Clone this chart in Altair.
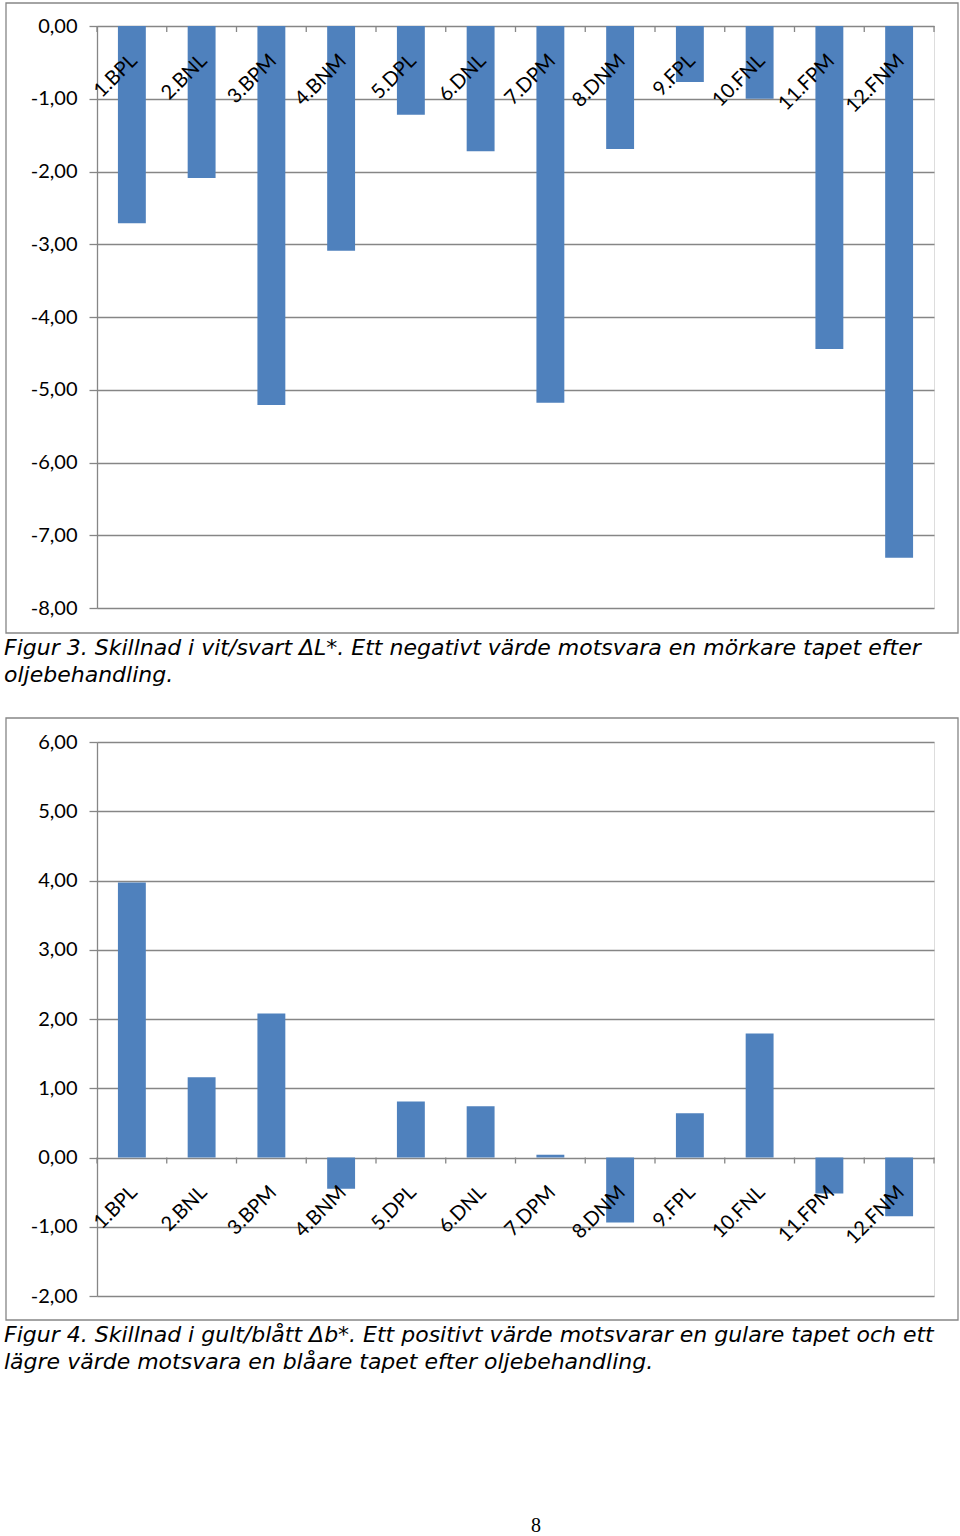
import altair as alt
import pandas as pd

categories = ["1.BPL", "2.BNL", "3.BPM", "4.BNM", "5.DPL", "6.DNL",
              "7.DPM", "8.DNM", "9.FPL", "10.FNL", "11.FPM", "12.FNM"]
delta_L = [-2.71, -2.09, -5.21, -3.09, -1.22, -1.72,
           -5.18, -1.69, -0.77, -1.00, -4.44, -7.31]
delta_b = [3.97, 1.16, 2.08, -0.45, 0.81, 0.74,
           0.04, -0.94, 0.64, 1.79, -0.52, -0.85]

caption3 = ["Figur 3. Skillnad i vit/svart \u0394L*. Ett negativt värde motsvara en mörkare tapet efter",
            "oljebehandling."]
caption4 = ["Figur 4. Skillnad i gult/blått \u0394b*. Ett positivt värde motsvarar en gulare tapet och ett",
            "lägre värde motsvara en blåare tapet efter oljebehandling."]
page_number = "8"

BAR = "#4F81BD"
GRID = "#868686"
LABEL_FONT = "Lato"

n = len(categories)
boundaries = pd.DataFrame({"b": [i + 0.5 for i in range(n + 1)]})
one = pd.DataFrame({"a": [0]})

label_expr = "(datum.value < 0 ? '-' : '') + replace(format(abs(datum.value), '.2f'), '.', ',')"


def figure(values, ymin, ymax, height, frame_top, frame_bottom, caption, cap_y, extra=None):
    df = pd.DataFrame({"cat": categories, "idx": list(range(1, n + 1)), "v": values})
    xs = alt.Scale(domain=[0.5, n + 0.5], nice=False, zero=False)
    ys = alt.Scale(domain=[ymin, ymax], nice=False, zero=False)
    yaxis = alt.Axis(values=list(range(ymin, ymax + 1)), grid=True, gridColor=GRID,
                     gridWidth=1.3, domainColor=GRID, domainWidth=1.3, tickColor=GRID,
                     tickWidth=1.3, tickSize=8, labelPadding=12, labelFont=LABEL_FONT,
                     labelFontSize=20, labelColor="black", title=None, labelExpr=label_expr)

    base = alt.Chart(df)
    bars = base.mark_bar(color=BAR).transform_calculate(
        x1="datum.idx - 0.2", x2="datum.idx + 0.2"
    ).encode(
        x=alt.X("x1:Q", scale=xs, axis=None),
        x2="x2:Q",
        y=alt.Y("v:Q", scale=ys, axis=yaxis),
        y2=alt.datum(0),
    )
    ticks = alt.Chart(boundaries).mark_rule(color=GRID, strokeWidth=1.3, y2Offset=6).encode(
        x=alt.X("b:Q", scale=xs, axis=None),
        y=alt.datum(0),
        y2=alt.datum(0),
    )
    labels = base.mark_text(angle=315, align="right", baseline="middle", dx=-21, dy=24,
                            font=LABEL_FONT, fontSize=20, color="black").encode(
        x=alt.X("idx:Q", scale=xs, axis=None),
        y=alt.datum(0),
        text="cat:N",
    )
    frame = alt.Chart(one).mark_rect(filled=False, stroke=GRID, strokeWidth=1.3).encode(
        x=alt.value(-91), x2=alt.value(861), y=alt.value(frame_top), y2=alt.value(frame_bottom)
    )
    cap = alt.Chart(one).mark_text(text=caption, align="left", baseline="alphabetic",
                                   font="DejaVu Sans", fontStyle="italic", fontSize=22,
                                   lineHeight=27, color="black").encode(
        x=alt.value(-93), y=alt.value(cap_y)
    )
    layers = [frame, bars, ticks, labels, cap]
    if extra is not None:
        layers.append(extra)
    return alt.layer(*layers).properties(width=837, height=height)


page = alt.Chart(one).mark_text(text=page_number, align="center", baseline="alphabetic",
                                font="Liberation Serif", fontSize=20, color="black").encode(
    x=alt.value(439), y=alt.value(790)
)

fig3 = figure(delta_L, -8, 0, 582, -23, 607, caption3, 629)
fig4 = figure(delta_b, -2, 6, 554, -24, 578, caption4, 600, extra=page)

chart = alt.vconcat(fig3, fig4, spacing=134, bounds="flush").properties(
    padding={"left": 3, "top": 1, "right": 0, "bottom": 0}
).configure_view(stroke=None).configure(background="white")

chart.save("out.html", embed_options={"renderer": "svg", "actions": False})
